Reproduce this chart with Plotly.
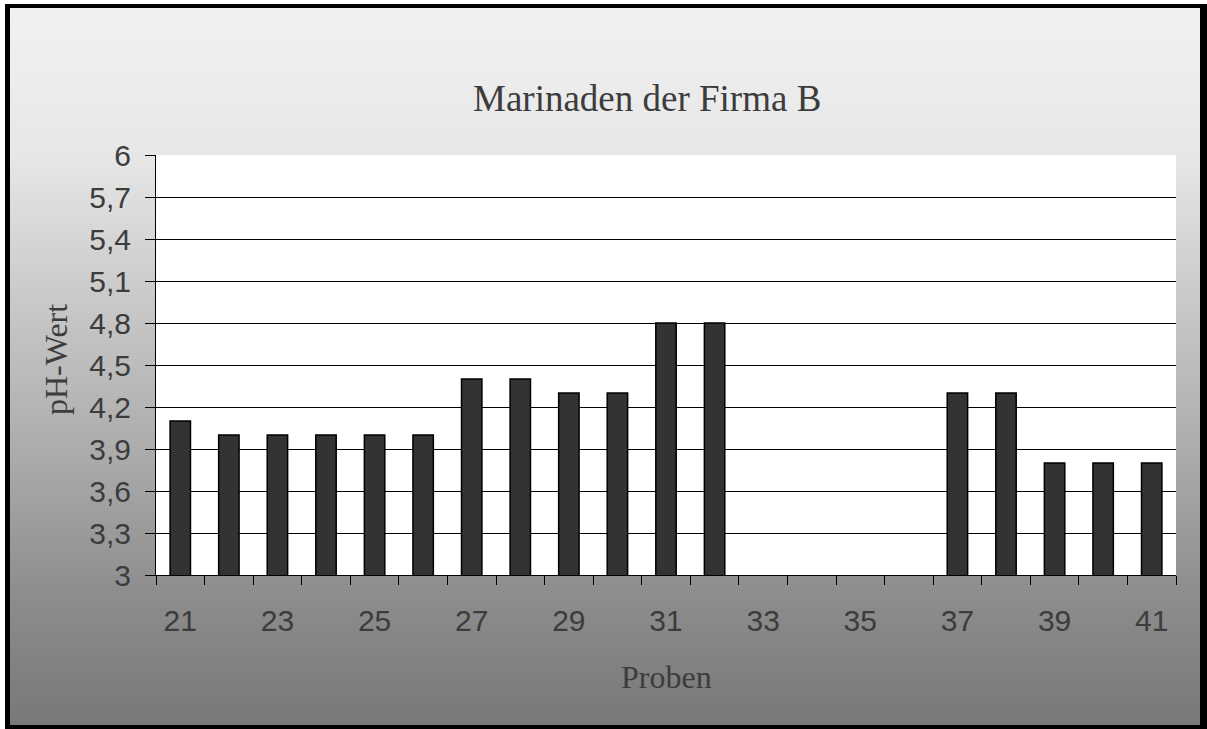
import plotly.graph_objects as go
import numpy as np

# ---- data ----
proben = list(range(21, 42))
ph_werte = [4.1, 4.0, 4.0, 4.0, 4.0, 4.0, 4.4, 4.4, 4.3, 4.3, 4.8, 4.8,
            None, None, None, None, 4.3, 4.3, 3.8, 3.8, 3.8]
x_label_vals = list(range(21, 42, 2))
y_tick_vals = [3, 3.3, 3.6, 3.9, 4.2, 4.5, 4.8, 5.1, 5.4, 5.7, 6]
y_tick_text = ["3", "3,3", "3,6", "3,9", "4,2", "4,5", "4,8", "5,1", "5,4", "5,7", "6"]

W, H = 1207, 729
L, R, T, B = 156, 1176, 155, 575  # plot area in pixels


def px(xp):
    return (xp - L) / (R - L)


def py(yp):
    return (B - yp) / (B - T)


fig = go.Figure()
fig.add_trace(go.Bar(
    x=proben, y=ph_werte, width=0.42,
    marker=dict(color="#333333", line=dict(color="#000000", width=1.5)),
))

shapes = []
# white strips outside the frame (top / left)
shapes.append(dict(type="rect", xref="paper", yref="paper", layer="below",
                   x0=px(-5), x1=px(1215), y0=py(-5), y1=py(4),
                   fillcolor="#ffffff", line=dict(width=0)))
shapes.append(dict(type="rect", xref="paper", yref="paper", layer="below",
                   x0=px(-5), x1=px(5), y0=py(-5), y1=py(735),
                   fillcolor="#ffffff", line=dict(width=0)))
# vertical gradient
stops_y = [8, 155, 300, 470, 600, 725]
stops_c = [241, 231, 201, 168, 140, 120]
step = 3
for y0 in range(8, 725, step):
    y1 = min(y0 + step, 725)
    c = int(round(np.interp((y0 + y1) / 2, stops_y, stops_c)))
    col = f"rgb({c},{c},{c})"
    shapes.append(dict(type="rect", xref="paper", yref="paper", layer="below",
                       x0=px(10), x1=px(1200), y0=py(y0), y1=py(min(y1 + 0.6, 725)),
                       fillcolor=col, line=dict(width=0)))
# white plot area
shapes.append(dict(type="rect", xref="paper", yref="paper", layer="below",
                   x0=0, x1=1, y0=0, y1=1, fillcolor="#ffffff", line=dict(width=0)))

txt_col = "#3c3c3c"
annotations = [
    dict(text="Marinaden der Firma B", xref="paper", yref="paper",
         x=px(647), y=py(98), xanchor="center", yanchor="middle", showarrow=False,
         font=dict(family="Liberation Serif", size=37, color=txt_col)),
    dict(text="pH-Wert", xref="paper", yref="paper", textangle=-90,
         x=px(56), y=py(360), xanchor="center", yanchor="middle", showarrow=False,
         font=dict(family="Liberation Serif", size=32, color=txt_col)),
    dict(text="Proben", xref="paper", yref="paper",
         x=px(666), y=py(677), xanchor="center", yanchor="middle", showarrow=False,
         font=dict(family="Liberation Serif", size=32, color=txt_col)),
]

fig.update_layout(
    width=W, height=H,
    margin=dict(l=L, r=W - R, t=T, b=H - B, pad=0),
    paper_bgcolor="#000000", plot_bgcolor="rgba(0,0,0,0)",
    showlegend=False,
    shapes=shapes, annotations=annotations,
    font=dict(family="Liberation Sans", size=30, color=txt_col),
)
fig.update_xaxes(
    range=[20.5, 41.5], tickvals=x_label_vals, ticks="",
    ticklabelstandoff=19,
    showgrid=False, zeroline=False,
    showline=True, linecolor="#000000", linewidth=1,
    minor=dict(ticks="outside", tick0=20.5, dtick=1, ticklen=9,
               tickcolor="#000000", tickwidth=1, showgrid=False),
    tickfont=dict(family="Liberation Sans", size=30, color=txt_col),
)
fig.update_yaxes(
    range=[3, 6], tickvals=y_tick_vals, ticktext=y_tick_text,
    ticks="outside", ticklen=10, tickcolor="#000000", tickwidth=1,
    ticklabelstandoff=8,
    showgrid=True, gridcolor="#000000", gridwidth=1,
    zeroline=False, showline=True, linecolor="#000000", linewidth=1,
    tickfont=dict(family="Liberation Sans", size=30, color=txt_col),
)

fig.write_html("out.html", config={"displayModeBar": False},
               post_script="document.body.style.margin='0';")
